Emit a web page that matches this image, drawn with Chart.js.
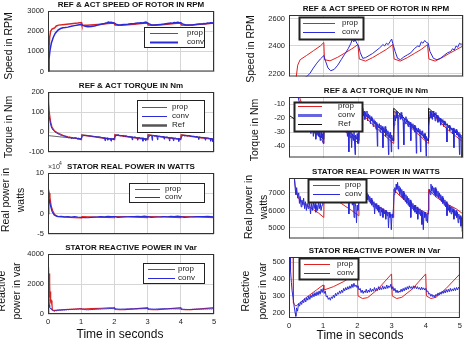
<!DOCTYPE html>
<html>
<head>
<meta charset="utf-8">
<script src="https://cdn.jsdelivr.net/npm/chart.js@4.4.1/dist/chart.umd.min.js"></script>
<style>
html, body { margin: 0; padding: 0; background: #fff; }
#wrap { position: relative; width: 465px; height: 343px; overflow: hidden; }
.pane { position: absolute; }
</style>
</head>
<body>
<div id="wrap"></div>
<script>
// ---- data (time in s, value) ----
const timeTicks = [0, 1, 2, 3, 4, 5];

const speedProp = [[0,0],[0.02,900],[0.05,1700],[0.08,2000],[0.12,2100],[0.16,2130],[0.2,2160],[0.25,2260],[0.32,2300],[0.5,2330],[0.7,2365],[0.9,2400],[1.0,2425],[1.02,2300],[1.18,2292],[1.4,2318],[1.6,2348],[1.8,2378],[1.98,2410],[2.02,2305],[2.2,2290],[2.4,2315],[2.6,2345],[2.8,2375],[2.98,2410],[3.02,2305],[3.2,2290],[3.4,2315],[3.6,2345],[3.8,2375],[3.98,2410],[4.02,2305],[4.2,2290],[4.4,2315],[4.6,2345],[4.8,2372],[5.0,2400]];
const speedConv = [[0,0],[0.03,600],[0.06,1050],[0.1,1400],[0.16,1700],[0.22,1900],[0.3,2050],[0.38,2130],[0.45,2170],[0.52,2180],[0.6,2200],[0.7,2240],[0.8,2275],[0.9,2305],[1.0,2330],[1.05,2290],[1.12,2240],[1.2,2220],[1.3,2230],[1.4,2260],[1.5,2300],[1.6,2340],[1.7,2380],[1.78,2420],[1.82,2450],[1.86,2430],[1.9,2445],[1.95,2420],[2.0,2400],[2.05,2350],[2.12,2310],[2.2,2315],[2.3,2330],[2.4,2345],[2.5,2365],[2.6,2385],[2.7,2410],[2.75,2400],[2.8,2420],[2.85,2410],[2.9,2430],[2.95,2450],[2.98,2420],[3.05,2360],[3.12,2310],[3.2,2300],[3.3,2320],[3.4,2335],[3.5,2350],[3.6,2380],[3.7,2400],[3.75,2395],[3.8,2430],[3.85,2420],[3.9,2440],[3.95,2425],[4.0,2420],[4.05,2360],[4.15,2310],[4.25,2300],[4.35,2310],[4.45,2330],[4.55,2350],[4.65,2360],[4.7,2380],[4.75,2370],[4.8,2400],[4.85,2390],[4.9,2420],[4.95,2410],[5.0,2425]];

const torqueProp = [[0,200],[0.02,150],[0.04,100],[0.08,50],[0.12,25],[0.2,5],[0.3,-5],[0.45,-16],[0.6,-24],[0.8,-30],[1.0,-38],[1.01,-16],[1.3,-22],[1.6,-29],[2.0,-38],[2.01,-15],[2.3,-22],[2.6,-29],[3.0,-38],[3.01,-15],[3.3,-22],[3.6,-29],[4.0,-38],[4.01,-15],[4.3,-22],[4.6,-29],[5.0,-37]];
const torqueRef = [[0,-18],[1.0,-35],[1.01,-13],[2.0,-36],[2.01,-13],[3.0,-36],[3.01,-13],[4.0,-36],[4.01,-13],[5.0,-35]];
const torqueConv = [[0,0],[0.01,60],[0.02,105],[0.03,90],[0.05,65],[0.07,45],[0.1,25],[0.13,15],[0.16,8],[0.2,2],[0.25,-4],[0.3,-9],[0.35,-13],[0.4,-17],[0.45,-19],[0.5,-22],[0.55,-24],[0.6,-26],[0.63,-31],[0.65,-25],[0.68,-28],[0.7,-33],[0.72,-27],[0.75,-29],[0.77,-35],[0.8,-28],[0.82,-31],[0.84,-26],[0.86,-33],[0.88,-30],[0.9,-36],[0.92,-29],[0.94,-34],[0.96,-31],[0.98,-38],[1.0,-30],
  [1.02,-24],[1.05,-20],[1.08,-18],[1.12,-17],[1.2,-19],[1.3,-21],[1.4,-23],[1.5,-25],[1.55,-24],[1.6,-27],[1.63,-30],[1.65,-26],[1.68,-33],[1.7,-28],[1.72,-44],[1.73,-30],[1.76,-34],[1.78,-29],[1.8,-41],[1.82,-31],[1.85,-36],[1.87,-30],[1.9,-46],[1.91,-32],[1.94,-35],[1.96,-31],[1.98,-38],[2.0,-33],
  [2.02,-22],[2.04,-16],[2.06,-20],[2.08,-14],[2.1,-19],[2.12,-13],[2.14,-18],[2.16,-15],[2.18,-21],[2.2,-16],[2.22,-19],[2.24,-15],[2.26,-22],[2.28,-17],[2.3,-20],[2.32,-18],[2.34,-24],[2.36,-19],[2.38,-22],[2.4,-20],[2.42,-26],[2.44,-21],[2.46,-24],[2.48,-22],[2.5,-28],[2.52,-23],[2.54,-40],[2.55,-24],[2.58,-27],[2.6,-24],[2.62,-30],[2.64,-25],[2.66,-28],[2.68,-26],[2.7,-41],[2.71,-27],[2.74,-30],[2.76,-26],[2.78,-33],[2.8,-28],[2.82,-31],[2.84,-29],[2.86,-46],[2.87,-30],[2.9,-34],[2.92,-30],[2.94,-44],[2.95,-32],[2.98,-36],[3.0,-33],
  [3.02,-25],[3.04,-18],[3.06,-22],[3.08,-15],[3.1,-20],[3.12,-16],[3.14,-42],[3.15,-19],[3.18,-17],[3.2,-21],[3.22,-16],[3.24,-20],[3.26,-18],[3.28,-23],[3.3,-39],[3.31,-20],[3.34,-24],[3.36,-19],[3.38,-23],[3.4,-21],[3.42,-26],[3.44,-22],[3.46,-25],[3.48,-23],[3.5,-36],[3.51,-24],[3.54,-27],[3.56,-24],[3.58,-28],[3.6,-25],[3.62,-30],[3.64,-26],[3.66,-45],[3.67,-27],[3.7,-30],[3.72,-27],[3.74,-31],[3.76,-28],[3.78,-44],[3.79,-29],[3.82,-32],[3.84,-29],[3.86,-34],[3.88,-31],[3.9,-35],[3.92,-31],[3.94,-47],[3.95,-33],[3.98,-36],[4.0,-34],
  [4.02,-26],[4.04,-19],[4.06,-15],[4.08,-20],[4.1,-16],[4.12,-21],[4.14,-15],[4.16,-19],[4.18,-17],[4.2,-22],[4.22,-16],[4.24,-20],[4.26,-18],[4.28,-23],[4.3,-19],[4.32,-22],[4.34,-20],[4.36,-25],[4.38,-21],[4.4,-23],[4.42,-21],[4.44,-26],[4.46,-22],[4.48,-25],[4.5,-23],[4.52,-27],[4.54,-37],[4.55,-24],[4.58,-27],[4.6,-25],[4.62,-29],[4.64,-26],[4.66,-28],[4.68,-27],[4.7,-31],[4.72,-27],[4.74,-41],[4.75,-28],[4.78,-30],[4.8,-28],[4.82,-32],[4.84,-29],[4.86,-33],[4.88,-30],[4.9,-46],[4.91,-31],[4.94,-34],[4.96,-48],[4.97,-32],[5.0,-35]];

// left real power, x10^4 W
const powerPropL = [[0,0],[0.01,5.5],[0.02,4.6],[0.03,5.8],[0.04,5.0],[0.06,4.0],[0.08,2.8],[0.1,1.8],[0.14,0.8],[0.2,-0.2],[0.3,-0.7],[0.5,-0.85],[0.8,-0.95],[1.0,-1.05],[1.02,-0.75],[1.5,-0.85],[2.0,-1.0],[2.02,-0.7],[2.5,-0.8],[3.0,-0.95],[3.02,-0.7],[3.5,-0.8],[4.0,-0.95],[4.02,-0.7],[4.5,-0.8],[5.0,-0.95]];
const powerConvL = [[0,0],[0.01,3.8],[0.02,5.2],[0.03,4.2],[0.05,3.0],[0.08,1.8],[0.12,0.6],[0.18,-0.3],[0.25,-0.6],[0.3,-0.75],[0.4,-0.65],[0.5,-0.8],[0.6,-0.7],[0.7,-0.85],[0.8,-0.7],[0.9,-0.82],[1.0,-0.9],[1.1,-0.95],[1.2,-1.0],[1.3,-0.9],[1.4,-0.85],[1.5,-0.8],[1.6,-0.72],[1.7,-0.8],[1.8,-0.66],[1.9,-0.75],[2.0,-0.7],[2.1,-0.9],[2.2,-0.85],[2.3,-0.8],[2.4,-0.76],[2.5,-0.7],[2.6,-0.75],[2.7,-0.66],[2.8,-0.72],[2.9,-0.6],[3.0,-0.72],[3.1,-0.92],[3.2,-0.88],[3.3,-0.82],[3.4,-0.78],[3.5,-0.72],[3.6,-0.76],[3.7,-0.68],[3.8,-0.74],[3.9,-0.6],[4.0,-0.72],[4.1,-0.92],[4.2,-0.88],[4.3,-0.82],[4.4,-0.78],[4.5,-0.74],[4.6,-0.7],[4.7,-0.74],[4.8,-0.66],[4.9,-0.7],[5.0,-0.78]];

// right real power, W
const powerPropR = [[0,9000],[0.15,8000],[0.18,7400],[0.22,7000],[0.27,6700],[0.35,6500],[0.5,6300],[0.7,6050],[0.85,5850],[1.0,5600],[1.01,7300],[1.2,6900],[1.5,6400],[1.8,6000],[2.0,5700],[2.01,7200],[2.2,6800],[2.5,6300],[2.8,5950],[3.0,5600],[3.01,7200],[3.2,6800],[3.5,6300],[3.8,6000],[4.0,5800],[4.01,7200],[4.2,6800],[4.5,6400],[4.8,6100],[5.0,5800]];
const powerConvR = [[0,9000],[0.1,8500],[0.15,7900],[0.18,7200],[0.2,6900],[0.22,7300],[0.25,6700],[0.28,7000],[0.3,6400],[0.32,6800],[0.35,6200],[0.37,6600],[0.4,6300],[0.42,6700],[0.45,6100],[0.47,6500],[0.5,6000],[0.52,6400],[0.55,6100],[0.57,6600],[0.6,6200],[0.62,5800],[0.64,6400],[0.67,6000],[0.7,6500],[0.72,6100],[0.75,6400],[0.77,5900],[0.8,6300],[0.82,6000],[0.85,6500],[0.87,6100],[0.9,6400],[0.92,6000],[0.95,6300],[0.97,6600],[1.0,6900],
  [1.02,7300],[1.05,7600],[1.1,7500],[1.15,7200],[1.2,7400],[1.25,7100],[1.3,7300],[1.35,7000],[1.4,7200],[1.45,6900],[1.5,7100],[1.55,6800],[1.6,7000],[1.65,6700],[1.7,6900],[1.72,5800],[1.74,6700],[1.78,6500],[1.8,6800],[1.82,6300],[1.85,6700],[1.87,5600],[1.89,6500],[1.92,6200],[1.94,5300],[1.96,6300],[1.98,6000],[2.0,6400],
  [2.02,7000],[2.04,7400],[2.06,7000],[2.08,7500],[2.1,7100],[2.12,7300],[2.14,6900],[2.16,7200],[2.18,6800],[2.2,7100],[2.22,6700],[2.24,7000],[2.26,6600],[2.28,6900],[2.3,6500],[2.32,6800],[2.34,6400],[2.36,6700],[2.38,6300],[2.4,6600],[2.42,6200],[2.44,6500],[2.46,5800],[2.48,6400],[2.5,6100],[2.52,6400],[2.54,6000],[2.56,6300],[2.58,5900],[2.6,6200],[2.62,5700],[2.64,6200],[2.66,5900],[2.68,6100],[2.7,5600],[2.72,6100],[2.74,5800],[2.76,6000],[2.78,5500],[2.8,6000],[2.82,5700],[2.84,5900],[2.86,5000],[2.88,5900],[2.9,5600],[2.92,5800],[2.94,4900],[2.96,5800],[2.98,5600],[3.0,6100],
  [3.02,6900],[3.04,7300],[3.06,7000],[3.08,7500],[3.1,7200],[3.12,7600],[3.14,7100],[3.16,7400],[3.18,6900],[3.2,7300],[3.22,6800],[3.24,7200],[3.26,6700],[3.28,7100],[3.3,6600],[3.32,7000],[3.34,6500],[3.36,6900],[3.38,6400],[3.4,6800],[3.42,6300],[3.44,6700],[3.46,6200],[3.48,6600],[3.5,5600],[3.52,6500],[3.54,6100],[3.56,6400],[3.58,6000],[3.6,6300],[3.62,5900],[3.64,6300],[3.66,5800],[3.68,6200],[3.7,5500],[3.72,6100],[3.74,5800],[3.76,6100],[3.78,5700],[3.8,6000],[3.82,5200],[3.84,5900],[3.86,4900],[3.88,5900],[3.9,5600],[3.92,5900],[3.94,5400],[3.96,5800],[3.98,5300],[4.0,6000],
  [4.02,6900],[4.04,7200],[4.06,6900],[4.08,7500],[4.1,7100],[4.12,7400],[4.14,7000],[4.16,7300],[4.18,6900],[4.2,7300],[4.22,6800],[4.24,7200],[4.26,6800],[4.28,7100],[4.3,6700],[4.32,7000],[4.34,6600],[4.36,6900],[4.38,6500],[4.4,6800],[4.42,6400],[4.44,6700],[4.46,6300],[4.48,6600],[4.5,6200],[4.52,6500],[4.54,5700],[4.56,6400],[4.58,6000],[4.6,6300],[4.62,5900],[4.64,6200],[4.66,5800],[4.68,6200],[4.7,5900],[4.72,6100],[4.74,5500],[4.76,6000],[4.78,5700],[4.8,6000],[4.82,5600],[4.84,5900],[4.86,5300],[4.88,5800],[4.9,5500],[4.92,5700],[4.94,5100],[4.96,5600],[4.98,4800],[5.0,5300]];

const reacProp = [[0,0],[0.005,2600],[0.01,3100],[0.015,1200],[0.02,2800],[0.025,1500],[0.03,3000],[0.035,1400],[0.04,2700],[0.045,1300],[0.05,2400],[0.055,1100],[0.06,2000],[0.065,900],[0.07,1500],[0.08,800],[0.09,1000],[0.1,900],[0.12,700],[0.13,260],[0.16,250],[0.2,240],[0.5,290],[0.8,335],[1.0,365],[1.02,335],[1.3,355],[1.6,385],[1.98,435],[2.0,440],[2.02,300],[2.15,285],[2.3,290],[2.6,340],[3.0,430],[3.02,300],[3.15,285],[3.3,292],[3.6,340],[4.0,430],[4.02,300],[4.15,285],[4.3,292],[4.6,345],[5.0,430]];
const reacConv = [[0,0],[0.01,1000],[0.02,700],[0.03,950],[0.04,600],[0.05,450],[0.07,380],[0.09,330],[0.12,290],[0.15,240],[0.18,200],[0.2,180],[0.22,230],[0.25,210],[0.28,255],[0.31,240],[0.34,265],[0.37,250],[0.4,275],[0.43,260],[0.46,285],[0.49,265],[0.52,290],[0.55,275],[0.58,300],[0.61,280],[0.64,305],[0.67,290],[0.7,315],[0.73,295],[0.76,320],[0.79,300],[0.82,325],[0.85,305],[0.88,330],[0.91,310],[0.94,340],[0.97,320],[1.0,345],
  [1.03,315],[1.06,330],[1.09,295],[1.12,300],[1.15,280],[1.18,290],[1.21,275],[1.24,295],[1.27,285],[1.3,305],[1.33,290],[1.36,315],[1.39,300],[1.42,320],[1.45,310],[1.48,330],[1.51,315],[1.54,335],[1.57,320],[1.6,345],[1.63,330],[1.66,350],[1.69,335],[1.72,355],[1.75,340],[1.78,360],[1.81,345],[1.84,370],[1.87,350],[1.9,375],[1.93,355],[1.96,365],[1.99,350],
  [2.02,360],[2.05,335],[2.08,345],[2.11,320],[2.14,335],[2.17,315],[2.2,330],[2.23,320],[2.26,340],[2.29,318],[2.32,335],[2.35,322],[2.38,345],[2.41,325],[2.44,340],[2.47,328],[2.5,350],[2.53,330],[2.56,345],[2.59,332],[2.62,355],[2.65,335],[2.68,350],[2.71,338],[2.74,360],[2.77,340],[2.8,355],[2.83,342],[2.86,365],[2.89,345],[2.92,360],[2.95,350],[2.98,370],
  [3.01,340],[3.04,355],[3.07,330],[3.1,345],[3.13,320],[3.16,335],[3.19,318],[3.22,330],[3.25,322],[3.28,340],[3.31,325],[3.34,345],[3.37,330],[3.4,350],[3.43,335],[3.46,355],[3.49,340],[3.52,360],[3.55,345],[3.58,355],[3.61,340],[3.64,360],[3.67,345],[3.7,358],[3.73,342],[3.76,355],[3.79,340],[3.82,350],[3.85,335],[3.88,352],[3.91,338],[3.94,348],[3.97,335],[4.0,345],
  [4.03,325],[4.06,330],[4.09,310],[4.12,315],[4.15,298],[4.18,310],[4.21,295],[4.24,305],[4.27,292],[4.3,310],[4.33,300],[4.36,318],[4.39,305],[4.42,322],[4.45,310],[4.48,328],[4.51,315],[4.54,332],[4.57,318],[4.6,338],[4.63,322],[4.66,340],[4.69,325],[4.72,345],[4.75,328],[4.78,342],[4.81,330],[4.84,348],[4.87,332],[4.9,350],[4.93,335],[4.96,352],[5.0,340]];

// y tick values
const speedTicksL = [0, 1000, 2000, 3000];
const torqueTicksL = [-100, 0, 100, 200];
const powerTicksL = [-5, 0, 5, 10];
const reacTicksL = [0, 2000, 4000];
const speedTicksR = [2200, 2400, 2600];
const torqueTicksR = [-40, -30, -20, -10];
const powerTicksR = [5000, 6000, 7000];
const reacTicksR = [200, 300, 400, 500];

const FONT = '"Liberation Sans", Arial, sans-serif';
const RED = '#dd2222';
const BLUE = '#2a2ad8';
const GRID = '#d6d6d6';

const decor = {
  id: 'decor',
  afterDraw(chart, args, o) {
    const ctx = chart.ctx, a = chart.chartArea;
    const ox = o.box[0], oy = o.box[1];
    ctx.save();
    // frame
    ctx.strokeStyle = '#333';
    ctx.lineWidth = 1;
    ctx.strokeRect(a.left + 0.5, a.top + 0.5, a.right - a.left - 1, a.bottom - a.top - 1);
    // title
    ctx.fillStyle = '#111';
    ctx.font = 'bold 8px ' + FONT;
    ctx.textAlign = 'center';
    ctx.textBaseline = 'middle';
    ctx.fillText(o.title, (a.left + a.right) / 2, a.top - 6);
    // y label
    ctx.font = '10.5px ' + FONT;
    o.ylab.forEach(l => {
      ctx.save();
      ctx.translate(l[1] - ox, o.ylabY - oy);
      ctx.rotate(-Math.PI / 2);
      ctx.fillText(l[0], 0, 0);
      ctx.restore();
    });
    // x title
    if (o.xtitle) {
      ctx.font = '12px ' + FONT;
      ctx.fillText(o.xtitle[0], o.xtitle[1] - ox, o.xtitle[2] - oy);
    }
    // exponent
    if (o.expo) {
      ctx.textAlign = 'left';
      ctx.font = '7px ' + FONT;
      ctx.fillStyle = '#333';
      ctx.fillText('\u00d710', o.expo[0] - ox, o.expo[1] - oy);
      ctx.font = '5px ' + FONT;
      ctx.fillText('4', o.expo[0] - ox + 11, o.expo[1] - oy - 3);
    }
    // legend
    const lg = o.legend;
    ctx.fillStyle = '#fff';
    ctx.fillRect(lg.rect[0] - ox, lg.rect[1] - oy, lg.rect[2], lg.rect[3]);
    ctx.strokeStyle = '#222';
    ctx.lineWidth = lg.border;
    ctx.strokeRect(lg.rect[0] - ox + 0.5, lg.rect[1] - oy + 0.5, lg.rect[2], lg.rect[3]);
    ctx.font = '8px ' + FONT;
    ctx.textAlign = 'left';
    lg.items.forEach(it => {
      ctx.strokeStyle = it.color;
      ctx.lineWidth = it.width;
      ctx.beginPath();
      ctx.moveTo(lg.line[0] - ox, it.y - oy + 0.5);
      ctx.lineTo(lg.line[1] - ox, it.y - oy + 0.5);
      ctx.stroke();
      ctx.fillStyle = '#222';
      ctx.fillText(it.label, lg.textX - ox, it.y - oy);
    });
    ctx.restore();
  }
};

function makePanel(p) {
  const div = document.createElement('div');
  div.className = 'pane';
  div.style.left = p.box[0] + 'px';
  div.style.top = p.box[1] + 'px';
  const cv = document.createElement('canvas');
  cv.width = p.box[2];
  cv.height = p.box[3];
  cv.style.width = p.box[2] + 'px';
  cv.style.height = p.box[3] + 'px';
  div.appendChild(cv);
  document.getElementById('wrap').appendChild(div);

  const tickFont = { size: 7.5, family: FONT };
  new Chart(cv, {
    type: 'line',
    data: {
      datasets: p.series.map(s => ({
        data: s.data.map(d => ({ x: d[0], y: d[1] })),
        borderColor: s.color,
        borderWidth: s.width,
        pointRadius: 0,
        tension: 0,
        fill: false
      }))
    },
    options: {
      responsive: false,
      animation: false,
      events: [],
      layout: {
        padding: {
          left: 0,
          top: p.plot[1] - p.box[1],
          right: p.box[0] + p.box[2] - p.plot[2],
          bottom: 0
        }
      },
      plugins: {
        legend: { display: false },
        tooltip: { enabled: false },
        decor: {
          box: p.box, title: p.title, ylab: p.ylab, ylabY: p.ylabY,
          xtitle: p.xtitle, expo: p.expo, legend: p.legend
        }
      },
      scales: {
        x: {
          type: 'linear', min: 0, max: 5,
          afterBuildTicks: s => { s.ticks = timeTicks.map(v => ({ value: v })); },
          afterFit: s => { s.height = p.box[1] + p.box[3] - p.plot[3]; },
          ticks: { display: !!p.xLabels, font: tickFont, color: '#222', padding: 3, maxRotation: 0, autoSkip: false },
          grid: { color: GRID, drawTicks: false },
          border: { display: false }
        },
        y: {
          type: 'linear', min: p.yMin, max: p.yMax,
          afterBuildTicks: s => { s.ticks = p.yTicks.map(v => ({ value: v })); },
          afterFit: s => { s.width = p.plot[0] - p.box[0]; },
          ticks: { font: tickFont, color: '#222', padding: 4, callback: v => String(v) },
          grid: { color: GRID, drawTicks: false },
          border: { display: false }
        }
      }
    },
    plugins: [decor]
  });
}

const legPC = (y1, y2, w) => [
  { label: 'prop', color: RED, width: 1, y: y1 },
  { label: 'conv', color: BLUE, width: w || 1.5, y: y2 }
];

// ---- left column ----
makePanel({
  box: [0, 0, 232, 80], plot: [48, 11, 214, 72],
  yMin: 0, yMax: 3000, yTicks: speedTicksL,
  title: 'REF & ACT SPEED OF ROTOR IN RPM',
  ylab: [['Speed in RPM', 9]], ylabY: 46,
  series: [{ data: speedConv, color: BLUE, width: 1.5 }, { data: speedProp, color: RED, width: 1.5 }],
  legend: { rect: [144, 27, 60, 20], border: 1, line: [150, 178], textX: 187, items: legPC(33, 42, 2) }
});
makePanel({
  box: [0, 80, 232, 81], plot: [48, 92, 214, 152],
  yMin: -100, yMax: 200, yTicks: torqueTicksL,
  title: 'REF & ACT TORQUE IN Nm',
  ylab: [['Torque in Nm', 9]], ylabY: 127,
  series: [{ data: torqueConv, color: BLUE, width: 1 }, { data: torqueProp, color: RED, width: 1.2 }, { data: torqueRef, color: '#666', width: 1 }],
  legend: { rect: [137, 100, 67, 32], border: 1, line: [142, 167], textX: 172,
    items: [{ label: 'prop', color: RED, width: 1, y: 107 }, { label: 'conv', color: BLUE, width: 1, y: 116 }, { label: 'Ref', color: '#555', width: 2.5, y: 125 }] }
});
makePanel({
  box: [0, 161, 232, 82], plot: [48, 173, 214, 234],
  yMin: -5, yMax: 10, yTicks: powerTicksL,
  title: 'STATOR REAL POWER IN WATTS',
  ylab: [['Real power in', 6], ['watts', 21]], ylabY: 200,
  expo: [48, 167],
  series: [{ data: powerConvL, color: BLUE, width: 1.2 }, { data: powerPropL, color: RED, width: 1.2 }],
  legend: { rect: [129, 183, 75, 19], border: 1, line: [135, 160], textX: 165, items: legPC(189, 197, 1) }
});
makePanel({
  box: [0, 243, 232, 100], plot: [48, 254, 214, 314], xLabels: true,
  yMin: 0, yMax: 4000, yTicks: reacTicksL,
  title: 'STATOR REACTIVE POWER IN Var',
  ylab: [['Reactive', 2], ['power in var', 17]], ylabY: 291,
  xtitle: ['Time in seconds', 120, 335],
  series: [{ data: reacConv, color: BLUE, width: 1 }, { data: reacProp, color: RED, width: 1.2 }],
  legend: { rect: [143, 263, 61, 20], border: 1, line: [148, 175], textX: 178, items: legPC(269, 278, 1) }
});

// ---- right column ----
makePanel({
  box: [232, 0, 233, 85], plot: [289, 15, 463, 77],
  yMin: 2178, yMax: 2625, yTicks: speedTicksR,
  title: 'REF & ACT SPEED OF ROTOR IN RPM',
  ylab: [['Speed in RPM', 251]], ylabY: 49,
  series: [{ data: speedConv, color: BLUE, width: 1 }, { data: speedProp, color: RED, width: 1 }],
  legend: { rect: [299, 17, 64, 22], border: 2, line: [303, 335], textX: 342, items: legPC(23, 32, 1) }
});
makePanel({
  box: [232, 85, 233, 81], plot: [289, 97, 463, 159],
  yMin: -48, yMax: -5, yTicks: torqueTicksR,
  title: 'REF & ACT TORQUE IN Nm',
  ylab: [['Torque in Nm', 255]], ylabY: 130,
  series: [{ data: torqueConv, color: BLUE, width: 1 }, { data: torqueRef, color: '#111', width: 1 }, { data: torqueProp, color: RED, width: 1 }],
  legend: { rect: [294, 102, 68, 29], border: 2, line: [298, 322], textX: 338,
    items: [{ label: 'prop', color: RED, width: 1, y: 106 }, { label: 'conv', color: '#6666e0', width: 3, y: 115 }, { label: 'Ref', color: '#111', width: 1, y: 124 }] }
});
makePanel({
  box: [232, 166, 233, 81], plot: [289, 178, 463, 240],
  yMin: 4400, yMax: 7850, yTicks: powerTicksR,
  title: 'STATOR REAL POWER IN WATTS',
  ylab: [['Real power in', 249], ['watts', 264]], ylabY: 207,
  series: [{ data: powerConvR, color: BLUE, width: 1 }, { data: powerPropR, color: RED, width: 1 }],
  legend: { rect: [308, 179, 58, 23], border: 2, line: [313, 340], textX: 345, items: legPC(185, 194, 1) }
});
makePanel({
  box: [232, 247, 233, 96], plot: [289, 257, 463, 318], xLabels: true,
  yMin: 170, yMax: 530, yTicks: reacTicksR,
  title: 'STATOR REACTIVE POWER IN Var',
  ylab: [['Reactive', 246], ['power in var', 263]], ylabY: 291,
  xtitle: ['Time in seconds', 360, 336],
  series: [{ data: reacConv, color: BLUE, width: 1 }, { data: reacProp, color: RED, width: 1 }],
  legend: { rect: [299, 258, 59, 21], border: 2, line: [304, 330], textX: 337, items: legPC(264, 273, 1) }
});
</script>
</body>
</html>
